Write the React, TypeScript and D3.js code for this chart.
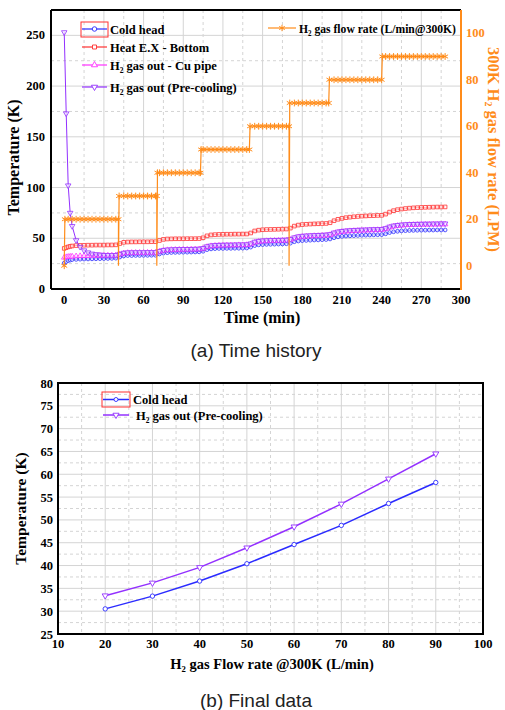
import React from "react";
import * as d3 from "d3";

// ---- (a) time history, sampled minutes ----
const minutes = [
  0, 1.5, 3, 4.5, 6, 9, 12, 15, 18, 21, 24, 27, 30, 33, 36, 39,
  42, 45, 48, 51, 54, 57, 60, 63, 66, 69,
  72, 75, 78, 81, 84, 87, 90, 93, 96, 99, 102,
  105, 108, 111, 114, 117, 120, 123, 126, 129, 132, 135, 138,
  141, 144, 147, 150, 153, 156, 159, 162, 165, 168,
  171, 174, 177, 180, 183, 186, 189, 192, 195, 198,
  201, 204, 207, 210, 213, 216, 219, 222, 225, 228, 231, 234, 237, 240,
  243, 246, 249, 252, 255, 258, 261, 264, 267, 270, 273, 276, 279, 282, 285, 288,
];

const coldHead = [
  25.5, 27, 28, 28.5, 29, 29.2, 29.4, 29.5, 29.6, 29.7, 29.8, 29.9, 30, 30.1, 30.2, 30.4,
  31.5, 32.6, 33, 33, 33.1, 33.1, 33.2, 33.2, 33.3, 33.3,
  34.5, 35.4, 35.8, 36, 36.1, 36.2, 36.3, 36.3, 36.4, 36.5, 36.6,
  37.2, 38.8, 39.5, 39.8, 40, 40, 40.1, 40.1, 40.2, 40.2, 40.3, 40.4,
  41.3, 42.8, 43.5, 43.8, 44, 44.1, 44.2, 44.3, 44.4, 44.6,
  45.2, 46.6, 47.3, 47.7, 47.9, 48.1, 48.3, 48.4, 48.6, 48.8,
  49.3, 50.5, 51.4, 51.9, 52.2, 52.4, 52.6, 52.8, 53, 53.1, 53.2, 53.4, 53.5, 53.6,
  54.4, 55.6, 56.4, 56.9, 57.3, 57.5, 57.7, 57.8, 57.9, 58, 58, 58.1, 58.1, 58.2, 58.2, 58.2,
];

const heatExBottom = [
  40, 40.8, 41.5, 42, 42.4, 42.8, 43, 43.1, 43.2, 43.2, 43.3, 43.3, 43.3, 43.4, 43.4, 43.5,
  44.8, 46, 46.3, 46.4, 46.4, 46.5, 46.5, 46.5, 46.6, 46.6,
  47.8, 48.9, 49.3, 49.4, 49.5, 49.5, 49.5, 49.6, 49.6, 49.6, 49.7,
  50.5, 52.4, 53.3, 53.6, 53.8, 53.9, 54, 54, 54.1, 54.1, 54.2, 54.2,
  55.2, 57.2, 58, 58.4, 58.6, 58.7, 58.8, 58.9, 59, 59.1,
  60, 62, 63, 63.5, 63.8, 64, 64.2, 64.3, 64.5, 64.6,
  65.3, 67.3, 68.7, 69.6, 70.3, 70.8, 71.2, 71.5, 71.8, 72, 72.2, 72.3, 72.5, 72.6,
  73.8, 75.8, 77.2, 78.2, 78.8, 79.3, 79.7, 80, 80.2, 80.4, 80.5, 80.6, 80.7, 80.8, 80.8, 80.9,
];

const cuPipeOut = [
  31, 31.5, 31.8, 32, 32.1, 32.3, 32.5, 32.6, 32.7, 32.8, 32.9, 33, 33, 33.1, 33.1, 33.2,
  34.2, 35.2, 35.6, 35.7, 35.8, 35.8, 35.8, 35.9, 35.9, 35.9,
  37, 38, 38.4, 38.6, 38.7, 38.8, 38.9, 38.9, 39, 39.1, 39.2,
  39.8, 41.5, 42.3, 42.7, 42.9, 43, 43.1, 43.1, 43.2, 43.3, 43.3, 43.4,
  44.2, 45.9, 46.7, 47.1, 47.3, 47.5, 47.6, 47.7, 47.8, 47.9,
  48.6, 50.1, 51.1, 51.6, 51.9, 52.1, 52.3, 52.4, 52.6, 52.8,
  53.3, 54.8, 55.8, 56.4, 56.8, 57.1, 57.3, 57.5, 57.7, 57.8, 58, 58.1, 58.2, 58.3,
  59.2, 60.7, 61.7, 62.3, 62.7, 63, 63.2, 63.3, 63.4, 63.5, 63.6, 63.6, 63.7, 63.7, 63.8, 63.8,
];

const preCoolingOut = [
  253, 173, 102, 75, 62, 48, 41.5, 38, 36, 34.8, 34.2, 33.8, 33.5, 33.4, 33.3, 33.4,
  34.5, 35.6, 36, 36, 36.1, 36.1, 36.1, 36.2, 36.2, 36.2,
  37.4, 38.4, 38.8, 39, 39.1, 39.2, 39.3, 39.3, 39.4, 39.5, 39.6,
  40.3, 42, 42.8, 43.2, 43.4, 43.5, 43.6, 43.6, 43.7, 43.8, 43.8, 43.9,
  44.8, 46.5, 47.3, 47.7, 47.9, 48.1, 48.2, 48.3, 48.4, 48.5,
  49.2, 50.8, 51.8, 52.3, 52.6, 52.8, 53, 53.1, 53.3, 53.5,
  54, 55.5, 56.5, 57.1, 57.5, 57.8, 58, 58.2, 58.4, 58.5, 58.7, 58.8, 58.9, 59,
  59.9, 61.4, 62.4, 63, 63.4, 63.7, 63.9, 64, 64.1, 64.2, 64.3, 64.3, 64.4, 64.4, 64.5, 64.5,
];

// H2 flow rate (LPM), its own sample times (steps and the short drops)
const flowMinutes = [
  0, 0.5, 3, 6, 9, 12, 15, 18, 21, 24, 27, 30, 33, 36, 39, 41,
  41, 41.5, 45, 48, 51, 54, 57, 60, 63, 66, 69, 70,
  70, 70.5, 72, 75, 78, 81, 84, 87, 90, 93, 96, 99, 102, 103,
  103.5, 105, 108, 111, 114, 117, 120, 123, 126, 129, 132, 135, 138, 140,
  140.5, 144, 147, 150, 153, 156, 159, 162, 165, 168, 170,
  170, 170.5, 174, 177, 180, 183, 186, 189, 192, 195, 198, 200,
  200.5, 204, 207, 210, 213, 216, 219, 222, 225, 228, 231, 234, 237, 240,
  240.5, 243, 246, 249, 252, 255, 258, 261, 264, 267, 270, 273, 276, 279, 282, 285, 288,
];
const flowLpm = [
  0, 20, 20, 20, 20, 20, 20, 20, 20, 20, 20, 20, 20, 20, 20, 20,
  0, 30, 30, 30, 30, 30, 30, 30, 30, 30, 30, 30,
  0, 40, 40, 40, 40, 40, 40, 40, 40, 40, 40, 40, 40, 40,
  50, 50, 50, 50, 50, 50, 50, 50, 50, 50, 50, 50, 50, 50,
  60, 60, 60, 60, 60, 60, 60, 60, 60, 60, 60,
  0, 70, 70, 70, 70, 70, 70, 70, 70, 70, 70, 70,
  80, 80, 80, 80, 80, 80, 80, 80, 80, 80, 80, 80, 80, 80,
  90, 90, 90, 90, 90, 90, 90, 90, 90, 90, 90, 90, 90, 90, 90, 90, 90,
];

// ---- (b) final data ----
const flowRates = [20, 30, 40, 50, 60, 70, 80, 90];
const finalColdHead = [30.5, 33.3, 36.6, 40.4, 44.6, 48.8, 53.6, 58.2];
const finalPreCooling = [33.4, 36.2, 39.6, 43.9, 48.5, 53.5, 59.0, 64.5];

const timeTicks = [0, 30, 60, 90, 120, 150, 180, 210, 240, 270, 300];
const tempTicks = [0, 50, 100, 150, 200, 250];
const lpmTicks = [0, 20, 40, 60, 80, 100];
const rateTicks = [10, 20, 30, 40, 50, 60, 70, 80, 90, 100];
const finalTempTicks = [25, 30, 35, 40, 45, 50, 55, 60, 65, 70, 75, 80];

const SERIF = "'Liberation Serif', 'Times New Roman', serif";
const SANS = "'Liberation Sans', Arial, sans-serif";
const ORANGE = "#ff8c1a";
const BLUE = "#2b2bff";
const RED = "#ff3030";
const MAGENTA = "#ff30ff";
const PURPLE = "#9330ff";
const GRID = "#d4d4d4";

const sym = (type: d3.SymbolType, size: number) => d3.symbol().type(type).size(size)() || "";

export default function App() {
  // top chart
  const t = { l: 51, r: 461, top: 10, b: 289 };
  const x = d3.scaleLinear().domain([-10, 300]).range([t.l, t.r]);
  const y = d3.scaleLinear().domain([0, 275]).range([t.b, t.top]);
  const yR = d3.scaleLinear().domain([-10, 110]).range([t.b, t.top]);

  const series = [
    { name: "Cold head", values: coldHead, color: BLUE, shape: d3.symbolCircle, size: 11, rot: 0 },
    { name: "Heat E.X - Bottom", values: heatExBottom, color: RED, shape: d3.symbolSquare, size: 13, rot: 0 },
    { name: "Cu pipe", values: cuPipeOut, color: MAGENTA, shape: d3.symbolTriangle, size: 13, rot: 0 },
    { name: "Pre-cooling", values: preCoolingOut, color: PURPLE, shape: d3.symbolTriangle, size: 13, rot: 180 },
  ];

  const line = d3
    .line<number>()
    .x((_, i) => x(minutes[i]))
    .y((d) => y(d));

  const flowLine = d3
    .line<number>()
    .x((_, i) => x(flowMinutes[i]))
    .y((d) => yR(d));

  // bottom chart
  const b = { l: 58, r: 483, top: 383, b: 634 };
  const bx = d3.scaleLinear().domain([10, 100]).range([b.l, b.r]);
  const by = d3.scaleLinear().domain([25, 80]).range([b.b, b.top]);
  const finalLine = d3
    .line<number>()
    .x((_, i) => bx(flowRates[i]))
    .y((d) => by(d));

  const legendTop = [
    { label: "Cold head", s: series[0], sub: false },
    { label: "Heat E.X - Bottom", s: series[1], sub: false },
    { label: " gas out - Cu pipe", s: series[2], sub: true },
    { label: " gas out (Pre-cooling)", s: series[3], sub: true },
  ];
  const legendRowsY = [29, 47, 65, 87];

  return (
    <svg width={505} height={710} style={{ display: "block", position: "absolute", left: 0, top: 0 }}>
      <rect width={505} height={710} fill="#fff" />

      {/* ---------- (a) grid ---------- */}
      <g>
        {d3.range(15, 300, 30).map((v) => (
          <line key={"vd" + v} x1={x(v)} x2={x(v)} y1={t.top} y2={t.b} stroke={GRID} strokeDasharray="3,3" />
        ))}
        {timeTicks.slice(1, -1).map((v) => (
          <line key={"vs" + v} x1={x(v)} x2={x(v)} y1={t.top} y2={t.b} stroke={GRID} />
        ))}
        {[25, 75, 125, 175, 225].map((v) => (
          <line key={"hd" + v} x1={t.l} x2={t.r} y1={y(v)} y2={y(v)} stroke={GRID} strokeDasharray="3,3" />
        ))}
        {tempTicks.slice(1).map((v) => (
          <line key={"hs" + v} x1={t.l} x2={t.r} y1={y(v)} y2={y(v)} stroke={GRID} />
        ))}
      </g>

      {/* temperature series */}
      {series.map((s) => (
        <g key={s.name}>
          <path d={line(s.values) || ""} fill="none" stroke={s.color} strokeWidth={1} />
          {s.values.map((v, i) => (
            <path
              key={i}
              d={sym(s.shape, s.size)}
              transform={`translate(${x(minutes[i])},${y(v)}) rotate(${s.rot})`}
              fill="#fff"
              fillOpacity={0.6}
              stroke={s.color}
              strokeWidth={0.8}
            />
          ))}
        </g>
      ))}

      {/* flow rate */}
      <path d={flowLine(flowLpm) || ""} fill="none" stroke={ORANGE} strokeWidth={1.2} />
      {flowLpm.map((v, i) =>
        v === 0 && flowMinutes[i] > 0 ? null : (
          <path
            key={"f" + i}
            d={sym(d3.symbolAsterisk, 32)}
            transform={`translate(${x(flowMinutes[i])},${yR(v)})`}
            fill="none"
            stroke={ORANGE}
            strokeWidth={1}
          />
        )
      )}

      {/* frame */}
      <line x1={t.l} x2={t.r} y1={t.top} y2={t.top} stroke="#000" strokeWidth={2} />
      <line x1={t.l} x2={t.l} y1={t.top} y2={t.b} stroke="#000" strokeWidth={2} />
      <line x1={t.l} x2={t.r} y1={t.b} y2={t.b} stroke="#000" strokeWidth={2} />
      <line x1={t.r} x2={t.r} y1={t.top} y2={t.b + 1} stroke={ORANGE} strokeWidth={2} />

      {/* axes labels */}
      <g fontFamily={SERIF} fontWeight="bold" fontSize={12.5}>
        {tempTicks.map((v) => (
          <text key={"yl" + v} x={t.l - 6} y={y(v) + 4} textAnchor="end">{v}</text>
        ))}
        {timeTicks.map((v) => (
          <text key={"xl" + v} x={x(v)} y={t.b + 15} textAnchor="middle">{v}</text>
        ))}
        {lpmTicks.map((v) => (
          <text key={"rl" + v} x={t.r + 5} y={yR(v) + 4} fill={ORANGE}>{v}</text>
        ))}
      </g>
      <g fontFamily={SERIF} fontWeight="bold" fontSize={16}>
        <text x={(t.l + t.r) / 2 + 6} y={t.b + 34} textAnchor="middle">Time (min)</text>
        <text transform={`translate(19,${(t.top + t.b) / 2 + 8}) rotate(-90)`} textAnchor="middle">Temperature (K)</text>
        <text transform={`translate(488,${(t.top + t.b) / 2}) rotate(90)`} textAnchor="middle" fill={ORANGE} fontSize={16.5}>
          300K H<tspan dy={3} fontSize="0.6em">2</tspan>
          <tspan dy={-3}> gas flow rate (LPM)</tspan>
        </text>
      </g>

      {/* legend (a) */}
      <g fontFamily={SERIF} fontWeight="bold" fontSize={12.5}>
        <rect x={81} y={22} width={27} height={15} fill="none" stroke={RED} strokeWidth={1} />
        {legendTop.map((l, i) => (
          <g key={l.label}>
            <line x1={82} x2={107} y1={legendRowsY[i]} y2={legendRowsY[i]} stroke={l.s.color} strokeWidth={1.2} />
            <path
              d={sym(l.s.shape, 16)}
              transform={`translate(94.5,${legendRowsY[i]}) rotate(${l.s.rot})`}
              fill="#fff"
              stroke={l.s.color}
              strokeWidth={0.9}
            />
            <text x={110} y={legendRowsY[i] + 4.5}>
              {l.sub ? (
                <>
                  H<tspan dy={3} fontSize="0.6em">2</tspan>
                  <tspan dy={-3}>{l.label}</tspan>
                </>
              ) : (
                l.label
              )}
            </text>
          </g>
        ))}
        <line x1={268} x2={296} y1={28} y2={28} stroke={ORANGE} strokeWidth={1.2} />
        <path d={sym(d3.symbolAsterisk, 28)} transform="translate(282,28)" fill="none" stroke={ORANGE} />
        <text x={299} y={32.5} textLength={157} lengthAdjust="spacingAndGlyphs">
          H<tspan dy={3} fontSize="0.6em">2</tspan>
          <tspan dy={-3}> gas flow rate (L/min@300K)</tspan>
        </text>
      </g>

      <text x={256} y={357} textAnchor="middle" fontFamily={SANS} fontSize={19} fill="#222">(a) Time history</text>

      {/* ---------- (b) final data ---------- */}
      <g>
        {d3.range(15, 100, 10).map((v) => (
          <line key={"bvd" + v} x1={bx(v)} x2={bx(v)} y1={b.top} y2={b.b} stroke={GRID} strokeDasharray="3,3" />
        ))}
        {rateTicks.slice(1, -1).map((v) => (
          <line key={"bvs" + v} x1={bx(v)} x2={bx(v)} y1={b.top} y2={b.b} stroke={GRID} />
        ))}
        {d3.range(27.5, 80, 5).map((v) => (
          <line key={"bhd" + v} x1={b.l} x2={b.r} y1={by(v)} y2={by(v)} stroke={GRID} strokeDasharray="3,3" />
        ))}
        {finalTempTicks.slice(1, -1).map((v) => (
          <line key={"bhs" + v} x1={b.l} x2={b.r} y1={by(v)} y2={by(v)} stroke={GRID} />
        ))}
      </g>

      <path d={finalLine(finalPreCooling) || ""} fill="none" stroke={PURPLE} strokeWidth={1.5} />
      <path d={finalLine(finalColdHead) || ""} fill="none" stroke={BLUE} strokeWidth={1.5} />
      {finalPreCooling.map((v, i) => (
        <path
          key={"bp" + i}
          d={sym(d3.symbolTriangle, 16)}
          transform={`translate(${bx(flowRates[i])},${by(v)}) rotate(180)`}
          fill="#fff"
          stroke={PURPLE}
          strokeWidth={0.9}
        />
      ))}
      {finalColdHead.map((v, i) => (
        <circle key={"bc" + i} cx={bx(flowRates[i])} cy={by(v)} r={2.2} fill="#fff" stroke={BLUE} strokeWidth={0.9} />
      ))}

      <rect x={b.l} y={b.top} width={b.r - b.l} height={b.b - b.top} fill="none" stroke="#000" strokeWidth={2} />

      <g fontFamily={SERIF} fontWeight="bold" fontSize={12.5}>
        {finalTempTicks.map((v) => (
          <text key={"byl" + v} x={b.l - 5} y={by(v) + 4.5} textAnchor="end">{v}</text>
        ))}
        {rateTicks.map((v) => (
          <text key={"bxl" + v} x={bx(v)} y={b.b + 14} textAnchor="middle">{v}</text>
        ))}
      </g>
      <g fontFamily={SERIF} fontWeight="bold" fontSize={15.5}>
        <text transform={`translate(26,${(b.top + b.b) / 2}) rotate(-90)`} textAnchor="middle">Temperature (K)</text>
        <text x={272} y={669} textAnchor="middle" fontSize={14.5}>
          H<tspan dy={3} fontSize="0.6em">2</tspan>
          <tspan dy={-3}>{" gas Flow rate @300K  (L/min)"}</tspan>
        </text>
      </g>

      {/* legend (b) */}
      <g fontFamily={SERIF} fontWeight="bold" fontSize={12.5}>
        <rect x={102} y={392} width={28} height={15} fill="none" stroke={RED} strokeWidth={1} />
        <line x1={103} x2={129} y1={399.5} y2={399.5} stroke={BLUE} strokeWidth={1.5} />
        <circle cx={116} cy={399.5} r={2} fill="#fff" stroke={BLUE} strokeWidth={0.9} />
        <text x={133} y={404}>Cold head</text>
        <line x1={103} x2={129} y1={415} y2={415} stroke={PURPLE} strokeWidth={1.5} />
        <path d={sym(d3.symbolTriangle, 16)} transform="translate(116,415) rotate(180)" fill="#fff" stroke={PURPLE} strokeWidth={0.9} />
        <text x={136} y={419.5}>
          H<tspan dy={3} fontSize="0.6em">2</tspan>
          <tspan dy={-3}> gas out (Pre-cooling)</tspan>
        </text>
      </g>

      <text x={256} y={707} textAnchor="middle" fontFamily={SANS} fontSize={19} fill="#222">(b) Final data</text>
    </svg>
  );
}
